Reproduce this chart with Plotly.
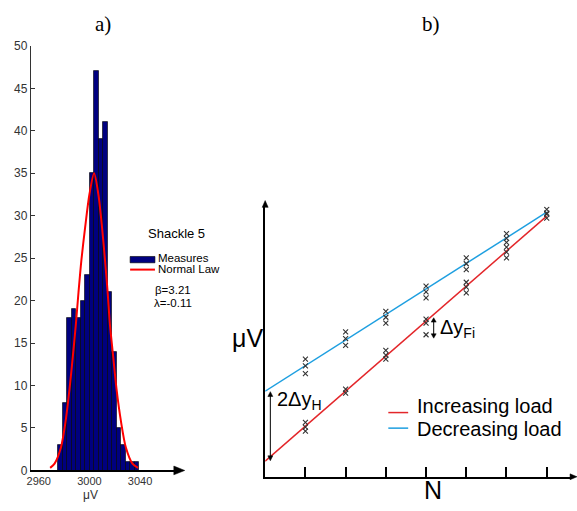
import plotly.graph_objects as go

W, H = 577, 511

# ---------------- data : panel a) ----------------
bin_centers = [2976.9, 2980.5, 2984.0, 2987.6, 2991.1, 2994.7, 2998.3, 3001.8, 3005.4,
               3008.9, 3012.5, 3016.1, 3019.6, 3023.2, 3026.7, 3030.3, 3033.8, 3037.4]
counts = [3, 8, 18, 19, 18, 20, 23, 35, 47, 39, 41, 21, 14, 5, 3, 1, 1, 1]
bin_width = 3.56

curve_x = [2969.0, 2972.5, 2977.5, 2981.2, 2984.3, 2986.9, 2989.3, 2991.4, 2993.7, 2996.6,
           3000.0, 3003.7, 3007.1, 3010.0, 3012.3, 3014.4, 3016.2, 3018.8, 3021.4, 3024.9,
           3028.8, 3034.0, 3038.4]
curve_y = [0.3, 0.8, 2.7, 5.8, 9.6, 13.4, 17.2, 21.0, 24.8, 28.6,
           32.5, 35.0, 32.5, 28.6, 24.8, 21.0, 17.2, 13.4, 9.6, 5.8,
           2.7, 0.8, 0.3]
y_ticks_a = [0, 5, 10, 15, 20, 25, 30, 35, 40, 45, 50]
x_ticks_a = [2960, 3000, 3040]

# ---------------- data : panel b) ----------------
line_N = [0, 7]
inc_line = [16, 268]
dec_line = [88, 272]

inc_N = [1, 1, 1, 2, 2, 3, 3, 3, 4, 4, 4, 5, 5, 5, 6, 6, 6, 7, 7]
inc_vals = [56, 51, 47, 90, 86, 130, 125, 121, 162, 158, 146, 200, 195, 189, 236, 231, 225, 270, 266]
dec_N = [1, 1, 1, 2, 2, 2, 3, 3, 3, 4, 4, 4, 5, 5, 5, 6, 6, 6, 7, 7]
dec_vals = [121, 114, 106, 149, 142, 135, 170, 164, 158, 196, 190, 184, 225, 219, 213, 250, 245, 241, 275, 271]
n_ticks = [1, 2, 3, 4, 5, 6, 7]


def X(px):
    return px / W


def Y(py):
    return 1 - py / H


SANS = "Liberation Sans, Arial, sans-serif"
SERIF = "Liberation Serif, Times New Roman, serif"
NAVY = "#00007f"
RED_A = "#ff0000"
RED_B = "#e3262a"
BLUE_B = "#1e9fe0"

fig = go.Figure()

# panel a
fig.add_trace(go.Bar(x=bin_centers, y=counts, width=bin_width,
                     marker=dict(color=NAVY, line=dict(color="#000000", width=0.6)),
                     xaxis="x", yaxis="y", showlegend=False, name="Measures"))
fig.add_trace(go.Scatter(x=curve_x, y=curve_y, mode="lines",
                         line=dict(color=RED_A, width=2, shape="spline", smoothing=0.8),
                         xaxis="x", yaxis="y", showlegend=False, name="Normal Law"))

# panel b
fig.add_trace(go.Scatter(x=line_N, y=dec_line, mode="lines", line=dict(color=BLUE_B, width=1.5),
                         xaxis="x2", yaxis="y2", showlegend=False))
fig.add_trace(go.Scatter(x=line_N, y=inc_line, mode="lines", line=dict(color=RED_B, width=1.5),
                         xaxis="x2", yaxis="y2", showlegend=False))
fig.add_trace(go.Scatter(x=inc_N, y=inc_vals, mode="markers",
                         marker=dict(symbol="x-thin", size=5, line=dict(color="#333333", width=1.1)),
                         xaxis="x2", yaxis="y2", showlegend=False))
fig.add_trace(go.Scatter(x=dec_N, y=dec_vals, mode="markers",
                         marker=dict(symbol="x-thin", size=5, line=dict(color="#333333", width=1.1)),
                         xaxis="x2", yaxis="y2", showlegend=False))

# axes geometry (pixels -> data)
ax_px0, ax_px1 = 27, 176
x3000_px, px_per_uv = 86, 1.275
xa_range = [3000 + (ax_px0 - x3000_px) / px_per_uv, 3000 + (ax_px1 - x3000_px) / px_per_uv]

fig.update_layout(
    width=W, height=H, autosize=False,
    margin=dict(l=0, r=0, t=0, b=0),
    paper_bgcolor="white", plot_bgcolor="white",
    font=dict(family=SANS, color="#000000"),
    bargap=0,
    xaxis=dict(domain=[X(ax_px0), X(ax_px1)], range=xa_range, tickvals=x_ticks_a,
               showgrid=False, zeroline=False, showline=True, linecolor="#000000", linewidth=1.5,
               ticks="", tickfont=dict(size=11, color="#333333", family=SANS), anchor="y"),
    yaxis=dict(domain=[Y(476.5), Y(40)], range=[0, 50], tickvals=y_ticks_a,
               showgrid=False, zeroline=False, showline=True, linecolor="#333333", linewidth=1,
               ticks="inside", ticklen=4, tickcolor="#333333",
               tickfont=dict(size=12, color="#333333", family=SANS), anchor="x"),
    xaxis2=dict(domain=[X(263), X(572)], range=[0, 309 / 40.5], tickvals=n_ticks,
                showticklabels=False, showgrid=False, zeroline=False, showline=True,
                linecolor="#000000", linewidth=1.5, ticks="inside", ticklen=10, tickwidth=2,
                tickcolor="#000000", anchor="y2"),
    yaxis2=dict(domain=[Y(483), Y(205)], range=[0, 278], showticklabels=False, showgrid=False,
                zeroline=False, showline=True, linecolor="#000000", linewidth=1.5, ticks="",
                anchor="x2"),
)


def tri(tip_x, tip_y, direction, length, half):
    """Filled triangular arrowhead in pixel coordinates converted to paper."""
    if direction == "right":
        pts = [(tip_x, tip_y), (tip_x - length, tip_y - half), (tip_x - length, tip_y + half)]
    elif direction == "up":
        pts = [(tip_x, tip_y), (tip_x - half, tip_y + length), (tip_x + half, tip_y + length)]
    else:  # down
        pts = [(tip_x, tip_y), (tip_x - half, tip_y - length), (tip_x + half, tip_y - length)]
    path = "M {} {} L {} {} L {} {} Z".format(*[v for p in pts for v in (X(p[0]), Y(p[1]))])
    return dict(type="path", xref="paper", yref="paper", path=path,
                fillcolor="#000000", line=dict(color="#000000", width=0.5))


def vline(px, py0, py1, width=1):
    return dict(type="line", xref="paper", yref="paper", x0=X(px), x1=X(px), y0=Y(py0), y1=Y(py1),
                line=dict(color="#000000", width=width))


shapes = [
    dict(type="rect", xref="paper", yref="paper", x0=X(127), x1=X(152), y0=Y(263), y1=Y(256.5),
         fillcolor=NAVY, line=dict(color="#000000", width=0.6)),
    dict(type="line", xref="paper", yref="paper", x0=X(127), x1=X(152), y0=Y(270), y1=Y(270),
         line=dict(color=RED_A, width=2)),
    dict(type="line", xref="paper", yref="paper", x0=X(387), x1=X(407), y0=Y(417), y1=Y(417),
         line=dict(color=RED_B, width=1.5)),
    dict(type="line", xref="paper", yref="paper", x0=X(387), x1=X(407), y0=Y(433), y1=Y(433),
         line=dict(color=BLUE_B, width=1.5)),
    # axis arrowheads
    tri(182, 476.5, "right", 11, 4.5),
    tri(577, 483, "right", 7, 3),
    tri(263, 199, "up", 7, 3),
    # double arrows
    vline(268.2, 398, 464),
    tri(268.2, 395.5, "up", 5, 2.5),
    tri(268.2, 466.5, "down", 5, 2.5),
    vline(432.7, 322, 338),
    tri(432.7, 319.5, "up", 4.5, 2.5),
    tri(432.7, 340.5, "down", 4.5, 2.5),
]
fig.update_layout(shapes=shapes)


def txt(px, py, s, size, xanchor="left", family=SANS, color="#000000"):
    return dict(x=X(px), y=Y(py), xref="paper", yref="paper", text=s, showarrow=False,
                xanchor=xanchor, yanchor="middle", font=dict(size=size, family=family, color=color))


annotations = [
    txt(100, 17, "a)", 21, "center", SERIF),
    txt(430, 17, "b)", 21, "center", SERIF),
    txt(143, 233, "Shackle 5", 13),
    txt(153, 258.5, "Measures", 11.5),
    txt(153, 269.5, "Normal Law", 11.5),
    txt(150, 291, "β=3.21", 11.5),
    txt(149, 304, "λ=-0.11", 11.5),
    txt(87, 502, "μV", 12, "center", SANS, "#333333"),
    txt(245, 340, "μV", 25, "center"),
    txt(432, 497, "N", 25, "center"),
    txt(414, 410, "Increasing load", 20),
    txt(414, 434, "Decreasing load", 20),
    txt(273, 405, "2Δy<sub>H</sub>", 20),
    txt(437, 331, "Δy<sub>Fi</sub>", 20),
]
fig.update_layout(annotations=annotations)

fig.write_html("out.html", config={"displayModeBar": False},
               post_script="document.body.style.margin='0';")
